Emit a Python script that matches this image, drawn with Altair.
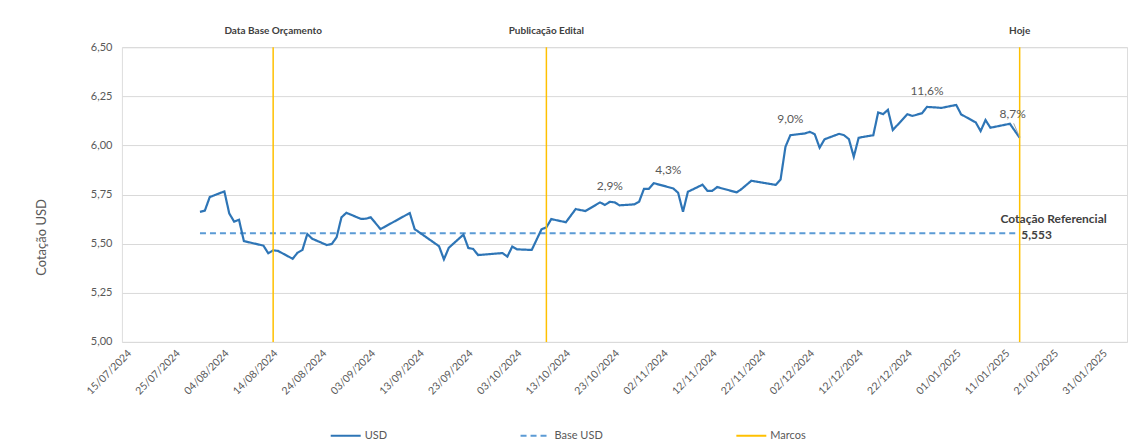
import altair as alt
import pandas as pd

# ---- data -------------------------------------------------------------
dates = [
    "2024-07-31", "2024-08-01", "2024-08-02", "2024-08-05", "2024-08-06", "2024-08-07",
    "2024-08-08", "2024-08-09", "2024-08-13", "2024-08-14", "2024-08-15", "2024-08-16",
    "2024-08-19", "2024-08-20", "2024-08-21", "2024-08-22", "2024-08-23", "2024-08-26",
    "2024-08-27", "2024-08-28", "2024-08-29", "2024-08-30", "2024-09-02", "2024-09-03",
    "2024-09-04", "2024-09-06", "2024-09-12", "2024-09-13", "2024-09-18", "2024-09-19",
    "2024-09-20", "2024-09-23", "2024-09-24", "2024-09-25", "2024-09-26", "2024-10-01",
    "2024-10-02", "2024-10-03", "2024-10-04", "2024-10-07", "2024-10-09", "2024-10-10",
    "2024-10-11", "2024-10-14", "2024-10-16", "2024-10-18", "2024-10-21", "2024-10-22",
    "2024-10-23", "2024-10-24", "2024-10-25", "2024-10-28", "2024-10-29", "2024-10-30",
    "2024-10-31", "2024-11-01", "2024-11-05", "2024-11-06", "2024-11-07", "2024-11-08",
    "2024-11-11", "2024-11-12", "2024-11-13", "2024-11-14", "2024-11-18", "2024-11-19",
    "2024-11-21", "2024-11-26", "2024-11-27", "2024-11-28", "2024-11-29", "2024-12-02",
    "2024-12-03", "2024-12-04", "2024-12-05", "2024-12-06", "2024-12-09", "2024-12-10",
    "2024-12-11", "2024-12-12", "2024-12-13", "2024-12-16", "2024-12-17", "2024-12-18",
    "2024-12-19", "2024-12-20", "2024-12-23", "2024-12-24", "2024-12-26", "2024-12-27",
    "2024-12-30", "2025-01-02", "2025-01-03", "2025-01-06", "2025-01-07", "2025-01-08",
    "2025-01-09", "2025-01-13", "2025-01-15",
]
usd = [
    5.662, 5.668, 5.737, 5.766, 5.654, 5.612,
    5.622, 5.513, 5.490, 5.451, 5.466, 5.463,
    5.423, 5.454, 5.468, 5.549, 5.525, 5.493,
    5.498, 5.532, 5.634, 5.657, 5.626, 5.627,
    5.634, 5.574, 5.656, 5.574, 5.487, 5.420,
    5.479, 5.546, 5.478, 5.473, 5.442, 5.452,
    5.434, 5.485, 5.471, 5.468, 5.573, 5.583,
    5.625, 5.609, 5.676, 5.666, 5.710, 5.697,
    5.713, 5.710, 5.695, 5.700, 5.713, 5.779,
    5.779, 5.808, 5.781, 5.759, 5.662, 5.764,
    5.800, 5.769, 5.769, 5.788, 5.761, 5.778,
    5.820, 5.799, 5.827, 5.993, 6.052, 6.061,
    6.069, 6.057, 5.988, 6.031, 6.059, 6.052,
    6.032, 5.942, 6.039, 6.052, 6.168, 6.159,
    6.181, 6.078, 6.159, 6.150, 6.164, 6.196,
    6.191, 6.206, 6.158, 6.117, 6.073, 6.129,
    6.090, 6.110, 6.039,
]
base_value = 5.553
base_dates = ["2024-07-31", "2025-01-15"]

marker_dates = ["2024-08-15", "2024-10-10", "2025-01-15"]
marker_labels = ["Data Base Orçamento", "Publicação Edital", "Hoje"]

pct_dates = ["2024-10-23", "2024-11-04", "2024-11-29", "2024-12-27"]
pct_values = [5.714, 5.792, 6.053, 6.197]
pct_texts = ["2,9%", "4,3%", "9,0%", "11,6%"]
last_pct_date = "2025-01-15"
last_pct_value = 6.036
last_pct_text = "8,7%"

x_ticks = [
    "2024-07-15", "2024-07-25", "2024-08-04", "2024-08-14", "2024-08-24", "2024-09-03",
    "2024-09-13", "2024-09-23", "2024-10-03", "2024-10-13", "2024-10-23", "2024-11-02",
    "2024-11-12", "2024-11-22", "2024-12-02", "2024-12-12", "2024-12-22", "2025-01-01",
    "2025-01-11", "2025-01-21", "2025-01-31",
]
x_domain = ["2024-07-15", "2025-02-06"]
y_ticks = [5.00, 5.25, 5.50, 5.75, 6.00, 6.25, 6.50]

series_names = ["USD", "Base USD", "Marcos"]
series_colors = ["#2E75B6", "#5B9BD5", "#FFC000"]

# ---- helpers -----------------------------------------------------------
FONT = "Lato"
GREY = "#595959"
DARK = "#404040"


def dt(s):
    y, m, d = (int(p) for p in s.split("-"))
    return alt.DateTime(year=y, month=m, date=d)


def loc(s):
    return s + "T00:00:00"


usd_df = pd.DataFrame({"date": [loc(d) for d in dates], "value": usd, "series": "USD"})
base_df = pd.DataFrame({"date": [loc(d) for d in base_dates],
                        "value": [base_value] * len(base_dates), "series": "Base USD"})
marker_df = pd.DataFrame({"date": [loc(d) for d in marker_dates], "label": marker_labels,
                          "series": "Marcos"})
pct_df = pd.DataFrame({"date": [loc(d) for d in pct_dates], "value": pct_values,
                       "label": pct_texts})
last_df = pd.DataFrame({"date": [loc(last_pct_date)], "value": [last_pct_value],
                        "label": [last_pct_text]})
ref_df = pd.DataFrame({"date": [loc(base_dates[-1])], "value": [base_value],
                       "title": ["Cotação Referencial"],
                       "label": [f"{base_value:.3f}".replace(".", ",")]})

x_scale = alt.Scale(domain=[dt(d) for d in x_domain])
y_scale = alt.Scale(domain=[5.0, 6.5], nice=False, zero=False)

legend = alt.Legend(
    title=None, orient="none", legendX=208, legendY=373, direction="horizontal",
    columns=3, columnPadding=129, symbolType="stroke", symbolStrokeWidth=2,
    symbolSize=900, labelFont=FONT, labelFontSize=11, labelColor=GREY,
    labelOffset=3,
)
color_enc = alt.Color(
    "series:N", scale=alt.Scale(domain=series_names, range=series_colors), legend=legend)
dash_enc = alt.StrokeDash(
    "series:N", scale=alt.Scale(domain=series_names, range=[[1, 0], [6, 4], [1, 0]]),
    legend=legend)

x_axis = alt.Axis(
    values=[dt(d) for d in x_ticks], format="%d/%m/%Y", labelAngle=-45,
    labelAlign="right", labelBaseline="top", labelFont=FONT, labelFontSize=10.5,
    labelColor=GREY, labelPadding=6, labelOffset=4, grid=False, ticks=False,
    domain=False, labelOverlap=False,
)
y_axis = alt.Axis(
    values=y_ticks, labelExpr="replace(format(datum.value, '.2f'), '.', ',')",
    labelFont=FONT, labelFontSize=11, labelColor=GREY, labelPadding=10,
    grid=True, gridColor="#D9D9D9", gridWidth=1, ticks=False, domain=False,
    titleFont=FONT, titleFontSize=13, titleColor=GREY, titleFontWeight="normal",
    titleAngle=-90, titleX=-80, titleY=190, titleAlign="center",
    titleBaseline="middle",
)


def X():
    return alt.X("date:T", scale=x_scale, title=None, axis=x_axis)


def Y(field="value:Q"):
    return alt.Y(field, scale=y_scale, title="Cotação USD", axis=y_axis)


usd_line = alt.Chart(usd_df).mark_line(strokeWidth=2.2).encode(
    x=X(), y=Y(), color=color_enc, strokeDash=dash_enc)

base_line = alt.Chart(base_df).mark_line(strokeWidth=2).encode(
    x=X(), y=Y(), color=color_enc, strokeDash=dash_enc)

marker_rules = alt.Chart(marker_df).mark_rule(strokeWidth=1.5).encode(
    x=X(), color=color_enc, strokeDash=dash_enc)

marker_text = alt.Chart(marker_df).mark_text(
    font=FONT, fontSize=10, fontWeight="bold", color=DARK, dy=-16, baseline="middle"
).encode(x=X(), y=alt.datum(6.5), text="label:N")

pct_text = alt.Chart(pct_df).mark_text(
    font=FONT, fontSize=12, color=GREY, dy=-16, baseline="middle"
).encode(x=X(), y=Y(), text="label:N")

last_text = alt.Chart(last_df).mark_text(
    font=FONT, fontSize=12, color=GREY, dy=-24, dx=-7, baseline="middle"
).encode(x=X(), y=Y(), text="label:N")

leader = alt.Chart(last_df).mark_rule(
    color="#A6A6A6", strokeWidth=1, xOffset=-6, yOffset=-15, x2Offset=0, y2Offset=-1
).encode(x=X(), y=Y(), x2="date:T", y2="value:Q")

ref_title = alt.Chart(ref_df).mark_text(
    font=FONT, fontSize=12, fontWeight="bold", color=DARK, dx=34, dy=-14,
    baseline="middle"
).encode(x=X(), y=Y(), text="title:N")

ref_label = alt.Chart(ref_df).mark_text(
    font=FONT, fontSize=12, fontWeight="bold", color=DARK, dx=17, dy=2,
    baseline="middle"
).encode(x=X(), y=Y(), text="label:N")

chart = alt.layer(
    base_line, usd_line, marker_rules, marker_text, pct_text, last_text, leader,
    ref_title, ref_label,
).properties(
    width=1006, height=295,
    autosize=alt.AutoSizeParams(type="none"),
    padding={"left": 114, "top": 39, "right": 10, "bottom": 104},
).configure_view(stroke=None).configure(background="white")

chart.save("out.html", embed_options={"renderer": "svg", "actions": False})
